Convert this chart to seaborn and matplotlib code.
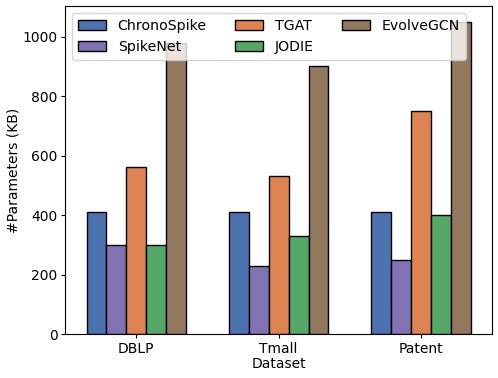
import pandas as pd
import seaborn as sns
import matplotlib.pyplot as plt

datasets = ["DBLP", "Tmall", "Patent"]
models = ["ChronoSpike", "SpikeNet", "TGAT", "JODIE", "EvolveGCN"]
chronospike = [412, 412, 412]
spikenet = [300, 230, 250]
tgat = [560, 530, 750]
jodie = [300, 330, 400]
evolvegcn = [980, 900, 1050]

values = [chronospike, spikenet, tgat, jodie, evolvegcn]
rows = []
for m, vals in zip(models, values):
    for d, v in zip(datasets, vals):
        rows.append({"Dataset": d, "Model": m, "Params": v})
df = pd.DataFrame(rows)

deep = sns.color_palette("deep")
palette = [deep[0], deep[4], deep[1], deep[2], deep[5]]

plt.rcParams["font.size"] = 10
fig, ax = plt.subplots(figsize=(4.98, 3.78), dpi=100)
sns.barplot(data=df, x="Dataset", y="Params", hue="Model", hue_order=models,
            palette=palette, width=0.7, edgecolor="black", linewidth=1,
            saturation=1, ax=ax)
ax.set_xlabel("Dataset", labelpad=1)
ax.set_ylabel("#Parameters (KB)", labelpad=1.5)
ax.tick_params(length=3, pad=2.5)
ax.legend(ncol=3, loc="upper left", fontsize=10.2)

fig.subplots_adjust(left=0.131, right=0.988, top=0.984, bottom=0.116)
plt.savefig("out.png")
